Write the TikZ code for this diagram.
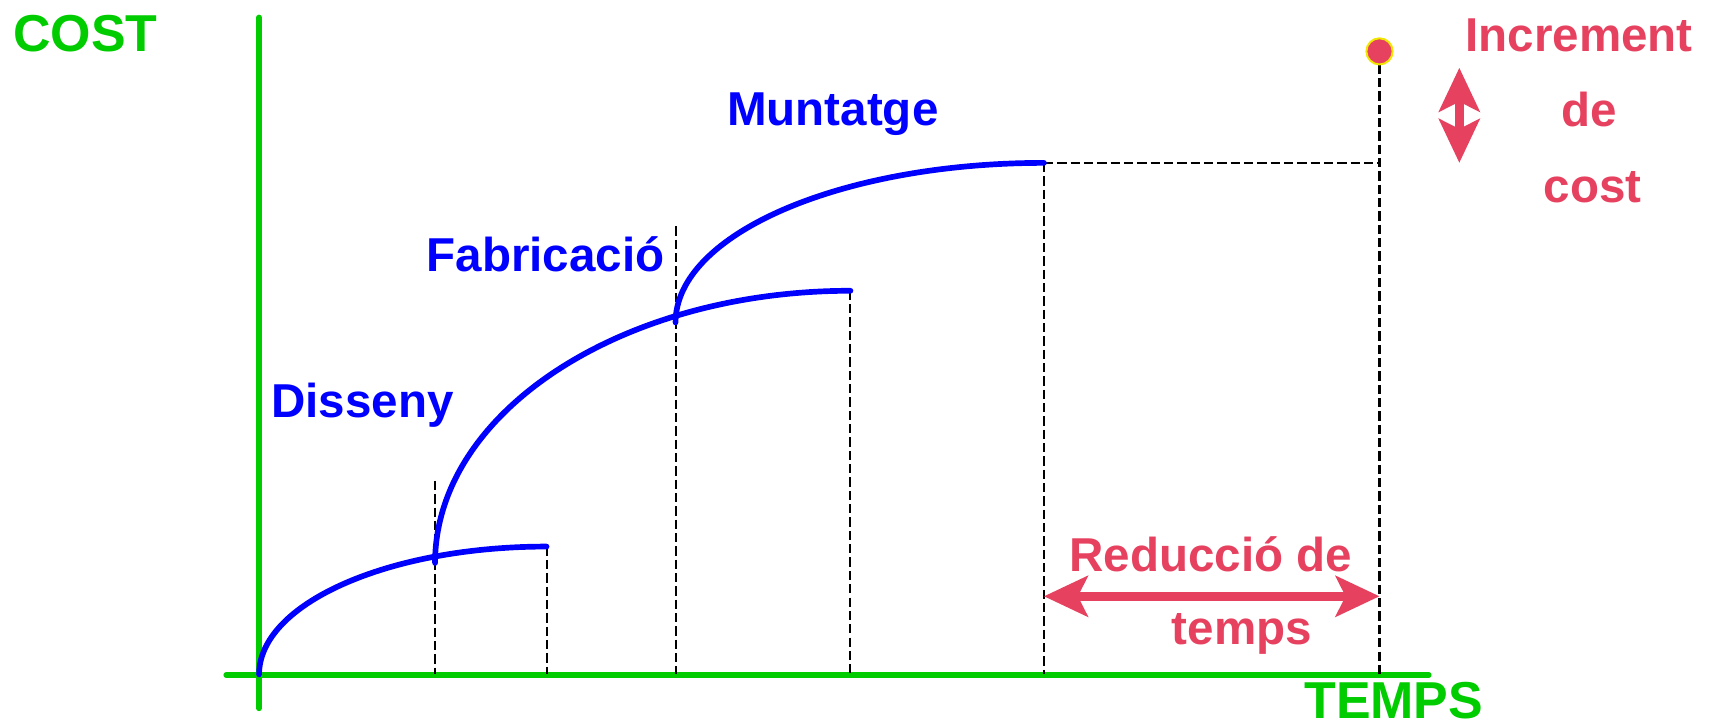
\documentclass[tikz,border=0pt]{standalone}
\usepackage{fontspec}
\setmainfont{Liberation Sans}
\usetikzlibrary{arrows.meta}
\definecolor{axgreen}{RGB}{0,204,0}
\definecolor{curveblue}{RGB}{0,0,255}
\definecolor{accred}{RGB}{230,66,96}
\definecolor{dotyellow}{RGB}{240,230,0}
\tikzset{
  axisline/.style={axgreen, line width=5.2pt, line cap=round},
  phasecurve/.style={curveblue, line width=5.2pt, line cap=round},
  guide/.style={black, line width=1.9pt, dash pattern=on 8.5pt off 3.7pt},
  axislabel/.style={text=axgreen, font=\fontsize{47.5}{50}\selectfont\bfseries, inner sep=0pt, anchor=base west},
  phaselabel/.style={text=curveblue, font=\fontsize{43.5}{46}\selectfont\bfseries, inner sep=0pt, anchor=base west},
  redlabel/.style={text=accred, font=\fontsize{43.5}{46}\selectfont\bfseries, inner sep=0pt, anchor=base},
  bighead/.tip={Stealth[length=40pt, width=37pt, inset=9pt]},
  bigarrow/.style={accred, line width=8.5pt, {bighead}-{bighead}},
  halfarrow/.style={accred, line width=8.5pt, -{bighead}},
}
\begin{document}
\begin{tikzpicture}[x=1pt, y=-1pt]
\useasboundingbox (0,0) rectangle (1568,663.3);
% axes
\coordinate (ytop) at (237,16);
\coordinate (ybot) at (237,648);
\coordinate (xl) at (207,617.5);
\coordinate (xr) at (1307,617.5);
\draw[axisline] (ytop) -- (ybot);
\draw[axisline] (xl) -- (xr);
\node[axislabel] (cost) at (12,47) {COST};
\node[axislabel] (temps) at (1193,657) {TEMPS};
% key points
\coordinate (o) at (237,617);
\coordinate (e1) at (500,500);
\coordinate (s2) at (398,515);
\coordinate (e2) at (778,266);
\coordinate (s3) at (618,295);
\coordinate (e3) at (955,149);
\coordinate (pk) at (1262,47);
% dashed guides
\coordinate (g1t) at (398,440); \coordinate (g1b) at (398,617);
\coordinate (g2b) at (500,617);
\coordinate (g3t) at (618,207); \coordinate (g3b) at (618,617);
\coordinate (g4b) at (778,617);
\coordinate (g5b) at (955,617);
\coordinate (g6m) at (1262,149); \coordinate (g6b) at (1262,617);
\draw[guide] (g1t) -- (g1b);
\draw[guide] (e1) -- (g2b);
\draw[guide] (g3t) -- (g3b);
\draw[guide] (e2) -- (g4b);
\draw[guide] (e3) -- (g5b);
\draw[guide] (e3) -- (g6m);
\draw[guide] (pk) -- (g6b);
% curves
\draw[phasecurve] (o) .. controls (237,552.4) and (354.7,500) .. (e1);
\draw[phasecurve] (s2) .. controls (398,377.5) and (568.1,266) .. (e2);
\draw[phasecurve] (s3) .. controls (618,214.4) and (768.9,149) .. (e3);
% phase labels
\node[phaselabel] (dis) at (248,382) {Disseny};
\node[phaselabel] (fab) at (390,248) {Fabricació};
\node[phaselabel] (mun) at (665,115) {Muntatge};
% dot
\node[circle, fill=accred, draw=dotyellow, line width=1.8pt, minimum size=24pt, inner sep=0pt] (dot) at (pk) {};
% arrows
\coordinate (va) at (1335,62); \coordinate (vm) at (1335,105.5); \coordinate (vb) at (1335,149);
\draw[halfarrow] (vm) -- (va);
\draw[halfarrow] (vm) -- (vb);
\coordinate (ha) at (955,545.5); \coordinate (hb) at (1262,545.5);
\draw[bigarrow] (ha) -- (hb);
% red labels
\node[redlabel] (inc1) at (1444.5,47) {Increment};
\node[redlabel] (inc2) at (1453.5,116) {de};
\node[redlabel] (inc3) at (1457,185) {cost};
\node[redlabel] (red1) at (1107.5,522.5) {Reducció de};
\node[redlabel] (red2) at (1136,590) {temps};
\end{tikzpicture}
\end{document}
